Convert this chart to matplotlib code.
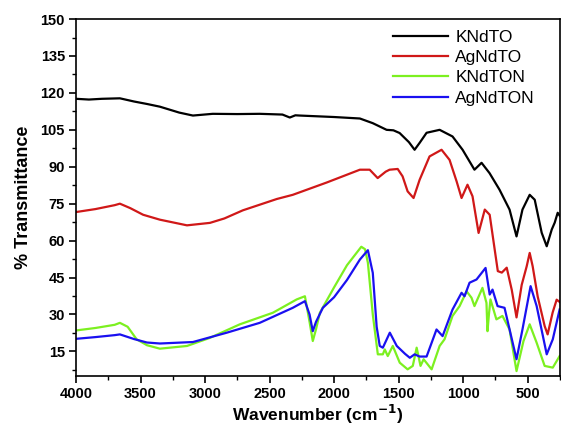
import matplotlib
matplotlib.use("Agg")
import matplotlib.pyplot as plt
from matplotlib.ticker import MultipleLocator

plt.rcParams['font.family'] = ['Liberation Sans', 'DejaVu Sans']

labels = ["KNdTO", "AgNdTO", "KNdTON", "AgNdTON"]
colors = ["#000000", "#d01818", "#7cf020", "#1a10f0"]

knto_x = [4000, 3900, 3800, 3660, 3550, 3450, 3350, 3200, 3094, 2940, 2750, 2576, 2400, 2343, 2300, 2266,
          2000, 1800, 1700, 1593, 1540, 1492, 1420, 1376, 1337, 1283, 1182, 1082, 1004, 912, 857, 795,
          718, 640, 586, 540, 484, 445, 391, 352, 313, 290, 267, 250]
knto_y = [117.6, 117.3, 117.6, 117.8, 116.5, 115.5, 114.4, 112.0, 110.8, 111.5, 111.4, 111.5, 111.2, 110.0, 110.9, 110.8,
          110.2, 109.6, 107.7, 105.0, 104.8, 103.7, 100.0, 96.9, 99.7, 103.8, 105.0, 102.3, 96.9, 88.8, 91.6, 87.4,
          80.7, 72.6, 61.7, 72.6, 78.6, 76.6, 63.2, 57.7, 64.5, 67.3, 71.3, 70.0]

agto_x = [4000, 3850, 3700, 3660, 3580, 3480, 3350, 3140, 2962, 2850, 2707, 2444, 2320, 2057, 1800, 1724,
          1662, 1600, 1570, 1507, 1469, 1430, 1384, 1337, 1260, 1167, 1105, 1050, 1012, 966, 927, 880,
          832, 794, 755, 731, 700, 662, 623, 586, 546, 507, 484, 461, 422, 368, 345, 306, 275, 250]
agto_y = [71.6, 72.8, 74.4, 75.0, 73.2, 70.5, 68.5, 66.2, 67.2, 69.0, 72.3, 76.9, 78.6, 83.6, 88.8, 88.8,
          85.4, 88.0, 88.8, 89.1, 86.1, 80.0, 77.3, 84.7, 94.2, 96.9, 92.8, 84.0, 77.3, 82.7, 78.0, 63.1,
          72.6, 70.5, 56.3, 47.6, 47.0, 49.0, 40.0, 28.8, 42.0, 49.6, 55.0, 49.6, 37.3, 25.3, 21.9, 30.8, 36.0, 35.0]

kton_x = [4000, 3850, 3700, 3660, 3600, 3530, 3450, 3350, 3140, 2962, 2730, 2474, 2290, 2226, 2190, 2165,
          2140, 2110, 2000, 1900, 1789, 1760, 1738, 1700, 1661, 1622, 1607, 1584, 1545, 1491, 1430, 1390,
          1360, 1330, 1306, 1244, 1182, 1144, 1082, 1027, 973, 935, 912, 850, 819, 811, 800, 788, 742,
          695, 640, 586, 532, 484, 430, 368, 305, 252]
kton_y = [23.5, 24.5, 25.8, 26.6, 25.0, 19.9, 17.5, 16.1, 17.2, 20.5, 26.0, 30.7, 36.1, 37.4, 27.0, 19.2,
          24.0, 30.7, 41.0, 50.0, 57.5, 56.5, 51.0, 30.0, 13.8, 13.8, 15.8, 13.1, 17.2, 10.4, 7.7, 9.1,
          16.5, 9.1, 11.8, 7.7, 17.2, 19.9, 29.4, 33.4, 39.4, 36.8, 33.4, 40.8, 34.7, 23.2, 30.0, 36.1, 28.0,
          29.4, 23.9, 7.0, 19.2, 26.0, 18.5, 9.1, 8.4, 13.1]

agton_x = [4000, 3850, 3700, 3660, 3550, 3450, 3350, 3094, 2831, 2576, 2320, 2226, 2190, 2165, 2140, 2087,
           2000, 1900, 1800, 1738, 1700, 1670, 1646, 1622, 1568, 1514, 1450, 1413, 1376, 1337, 1283, 1206,
           1159, 1082, 1012, 989, 950, 896, 826, 794, 772, 733, 679, 586, 540, 477, 430, 352, 305, 252]
agton_y = [20.1, 20.8, 21.6, 21.9, 20.0, 18.6, 18.2, 18.8, 22.6, 26.6, 32.7, 35.4, 30.0, 23.2, 27.0, 32.7,
           37.0, 44.0, 52.3, 56.1, 46.9, 25.0, 17.2, 16.5, 22.6, 17.2, 14.0, 12.4, 13.8, 12.9, 12.9, 23.9,
           21.2, 32.0, 38.8, 37.4, 42.9, 44.2, 48.9, 38.1, 40.1, 33.4, 32.7, 11.8, 23.9, 41.5, 33.4, 13.8, 19.9, 32.0]

xs = [knto_x, agto_x, kton_x, agton_x]
ys = [knto_y, agto_y, kton_y, agton_y]

fig = plt.figure(figsize=(5.61, 4.28), dpi=100)
ax = fig.add_axes([0.1355, 0.1215, 0.8625, 0.834])

for x, y, c, l in zip(xs, ys, colors, labels):
    ax.plot(x, y, color=c, lw=1.6, label=l)

ax.set_xlim(4000, 250)
ax.set_ylim(5, 150)
ax.xaxis.set_major_locator(MultipleLocator(500))
ax.xaxis.set_minor_locator(MultipleLocator(250))
ax.yaxis.set_major_locator(MultipleLocator(15))
ax.yaxis.set_minor_locator(MultipleLocator(7.5))
ax.tick_params(which='major', direction='out', length=5, width=1.2, labelsize=10.5, pad=3)
ax.tick_params(which='minor', direction='out', length=3, width=1.0)
for lab in ax.get_xticklabels() + ax.get_yticklabels():
    lab.set_fontweight('bold')
for s in ax.spines.values():
    s.set_linewidth(1.2)

ax.set_xlabel("Wavenumber (cm$^{\\mathbf{-1}}$)", fontsize=12.5, fontweight='bold', labelpad=1)
ax.set_ylabel("% Transmittance", fontsize=13, fontweight='bold', labelpad=6)

leg = ax.legend(loc='upper right', frameon=False, fontsize=12.5, handlelength=3.2,
                borderaxespad=0.2, labelspacing=0.3, handletextpad=0.4, bbox_to_anchor=(0.97, 1.0))

fig.savefig("out.png", dpi=100)
